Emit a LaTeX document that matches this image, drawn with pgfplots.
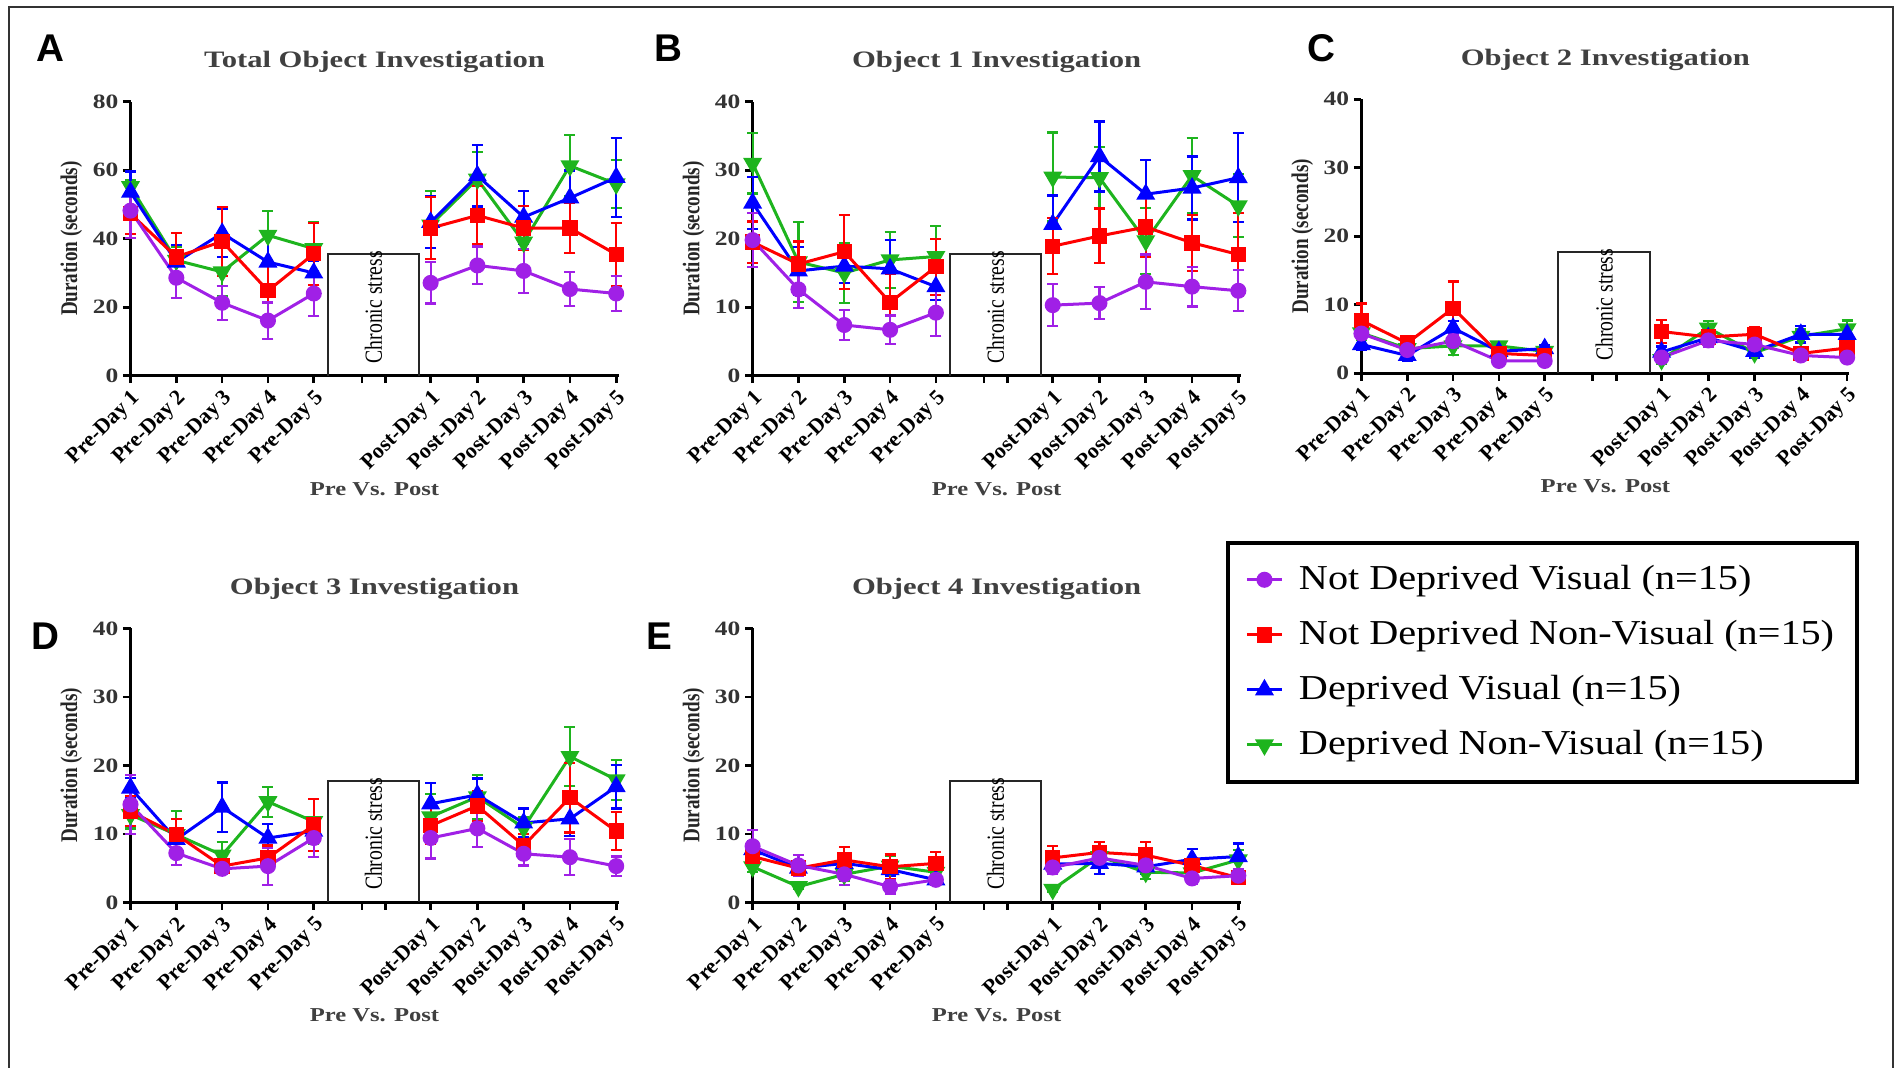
\documentclass[border=0pt]{standalone}
\usepackage{fontspec}
\setmainfont{Liberation Serif}
\newfontfamily\wfont{Liberation Serif}[FakeStretch=1.25]
\newfontfamily\lfont{Liberation Serif}[FakeStretch=1.15]
\newfontfamily\tfont{Liberation Serif}[FakeStretch=1.3]
\newfontfamily\rfont{Liberation Serif}[FakeStretch=0.8]
\newfontfamily\sfont{Liberation Sans}
\usepackage{pgfplots}
\usepackage{pgfplotstable}
\pgfplotsset{compat=1.18}

\definecolor{cpurple}{RGB}{160,32,230}
\definecolor{cred}{RGB}{255,0,0}
\definecolor{cblue}{RGB}{0,0,255}
\definecolor{cgreen}{RGB}{30,180,30}

\pgfplotstableread{
x ndv ndve ndnv ndnve dv dve dnv dnve
0 48.2 8 47.3 6 53.6 6 55.2 2
1 28.6 6 34.7 7 33.2 5 33.7 4
2 21.3 5 39.2 10 41.6 7 30.3 7
3 16.1 5.3 24.8 8 33.2 8 41.0 7.2
4 24.0 6.5 35.6 9 30.0 3.5 37.1 7.7
5.3 nan nan nan nan nan nan nan nan
6.55 27.1 6 43.1 9 44.8 7.5 44 10
7.57 32.2 5.5 46.8 8.5 58.4 9 57.4 8
8.58 30.6 6.5 43.1 6.5 46.3 7.7 39 2
9.59 25.3 5 43.1 7.3 51.9 8 61.3 9
10.6 24.0 5 35.4 9.3 57.9 11.6 56 7
}\tA

\pgfplotstableread{
x ndv ndve ndnv ndnve dv dve dnv dnve
0 19.8 3.9 19.5 3 25.2 3.8 31.0 4.4
1 12.6 2.7 16.3 3.3 15.3 3.5 16.6 5.8
2 7.4 2.2 18.1 5.4 16.0 2.5 15.0 4.4
3 6.7 2.1 10.7 4.1 15.6 4.2 16.9 4.1
4 9.2 3.4 15.9 4.1 13.0 2 17.4 4.4
5.3 nan nan nan nan nan nan nan nan
6.55 10.3 3.1 18.9 4.1 22.1 4.2 29.0 6.5
7.57 10.6 2.3 20.4 4 32.0 5.1 28.9 4.5
8.58 13.7 4 21.7 4.3 26.5 5 19.7 4.8
9.59 13.0 2.9 19.4 4.1 27.4 4.6 29.2 5.5
10.6 12.4 3 17.7 6 28.9 6.5 24.8 4.6
}\tB

\pgfplotstableread{
x ndv ndve ndnv ndnve dv dve dnv dnve
0 5.8 0.8 7.7 2.5 4.2 0.8 5.9 1
1 3.4 0.8 4.4 0.7 2.6 0.8 3.6 0.6
2 4.7 1 9.5 3.9 6.6 1 4.0 1.3
3 1.8 0.5 2.9 0.5 3.2 0.5 4.0 0.6
4 1.8 0.5 2.6 0.5 3.6 0.5 3.2 0.5
5.3 nan nan nan nan nan nan nan nan
6.55 2.3 0.5 6.1 1.7 3.1 0.8 2.0 0.6
7.57 4.8 1 5.3 1 5.2 1 6.6 1
8.58 4.2 1.5 5.7 1.1 3.2 1 3.0 0.8
9.59 2.6 0.5 2.9 0.3 5.7 1.2 5.4 1
10.6 2.3 0.4 3.7 0.8 5.7 1.2 6.5 1.2
}\tC

\pgfplotstableread{
x ndv ndve ndnv ndnve dv dve dnv dnve
0 14.3 4.3 13.3 2.2 16.7 1.5 12.8 2
1 7.2 1.7 9.9 2.3 9.2 1.5 9.9 3.4
2 4.9 0.8 5.3 0.8 13.9 3.6 6.9 1.9
3 5.3 2.7 6.5 1.8 9.4 2 14.7 2.2
4 9.4 2.8 11.3 3.8 10.4 1.5 11.8 3.3
5.3 nan nan nan nan nan nan nan nan
6.55 9.4 3 11.2 2.6 14.4 3 12.5 3.3
7.57 10.8 2.7 14.1 2.2 15.7 2.4 15.4 3.2
8.58 7.1 1.7 8.3 1.7 11.6 2.1 10.9 1.5
9.59 6.6 2.6 15.3 5.1 12.2 2.5 21.3 4.3
10.6 5.3 1.4 10.4 2.8 16.9 3.2 17.9 2.9
}\tD

\pgfplotstableread{
x ndv ndve ndnv ndnve dv dve dnv dnve
0 8.2 2.4 6.7 1.5 7.7 1.2 5.2 0.8
1 5.4 1.5 5.0 1 5.0 1 2.3 0.4
2 4.1 1.5 6.2 1.9 5.7 1 4.1 1
3 2.3 1 5.2 1.8 4.8 1 5.3 1.5
4 3.3 0.8 5.7 1.7 3.3 0.8 4.4 0.8
5.3 nan nan nan nan nan nan nan nan
6.55 5.1 1 6.5 1.7 5.6 1 1.9 0.4
7.57 6.5 1 7.3 1.5 5.7 1.6 6.7 1.5
8.58 5.4 1 6.9 1.9 5.2 1 4.4 1
9.59 3.5 0.8 5.4 1 6.3 1.5 4.3 1
10.6 3.9 1 3.6 0.8 6.7 1.9 6.2 1.5
}\tE

\pgfplotsset{
  panelbase/.style={
    scale only axis, width=48.8mm, height=27.4mm,
    xmin=0, xmax=10.65, ymin=0,
    axis x line=bottom, axis y line=left,
    axis line style={-, line width=0.27mm, black},
    tick style={line width=0.27mm, black},
    tick align=outside, major tick length=0.75mm,
    xtick={0,1,2,3,4,5.05,5.57,6.55,7.57,8.58,9.59,10.6},
    xticklabels={Pre-Day 1,Pre-Day 2,Pre-Day 3,Pre-Day 4,Pre-Day 5,,,Post-Day 1,Post-Day 2,Post-Day 3,Post-Day 4,Post-Day 5},
    xticklabel style={rotate=45, anchor=north east, inner sep=0.3mm, font=\bfseries\fontsize{6.2}{6.5}\selectfont},
    yticklabel style={font=\wfont\bfseries\fontsize{5.8}{6}\selectfont, text=black!80, inner sep=0.4mm},
    /pgf/number format/assume math mode=true,
    xlabel={Pre Vs. Post}, ylabel={Duration (seconds)},
    xlabel style={at={(axis description cs:0.5,0)}, anchor=center, yshift=-11.3mm, font=\wfont\bfseries\fontsize{5.6}{6}\selectfont, text=black!75},
    ylabel style={at={(axis description cs:-0.121,0.5)}, anchor=center, font=\rfont\bfseries\fontsize{6.8}{7}\selectfont, text=black!85},
    every axis title shift=0pt,
    title style={at={(axis description cs:0.5,1)}, anchor=center, yshift=3.95mm, font=\tfont\bfseries\fontsize{6.7}{7}\selectfont, text=black!75},
    clip=false, unbounded coords=jump,
  },
  ebars/.style={error bars/.cd, y dir=both, y explicit, error mark=-, error bar style={line width=0.22mm}, error mark options={rotate=90, mark size=0.55mm, line width=0.22mm}},
  sNDV/.style={color=cpurple, line width=0.3mm, mark=*, mark size=0.65mm, mark options={solid}, ebars},
  sNDNV/.style={color=cred, line width=0.3mm, mark=square*, mark size=0.62mm, mark options={solid}, ebars},
  sDV/.style={color=cblue, line width=0.3mm, mark=triangle*, mark size=0.8mm, mark options={solid}, ebars},
  sDNV/.style={color=cgreen, line width=0.3mm, mark=triangle*, mark size=0.8mm, mark options={solid, rotate=180}, ebars},
}

\newcommand{\cstress}[1]{%
  \addplot[black!85, line width=0.2mm, mark=none, forget plot] coordinates {(4.3,0) (4.3,#1) (6.3,#1) (6.3,0)};
  \node[rotate=90, anchor=west, font=\rfont\fontsize{7}{8}\selectfont] at (axis cs:5.3,0) {Chronic stress};
}

\begin{document}
\begin{tikzpicture}
\useasboundingbox (0,0) rectangle (189.4mm,106.7mm);
\draw[line width=0.2mm, black!80] (0.85mm,-1mm) -- (0.85mm,106.0mm) -- (189.3mm,106.0mm) -- (189.3mm,-1mm);

% Panel A
\begin{axis}[panelbase, at={(13.05mm,69.13mm)}, ymax=80, ytick={0,20,40,60,80}, title={Total Object Investigation}]
\cstress{35.4}
\addplot[sDNV] table[x=x,y=dnv,y error=dnve]{\tA};
\addplot[sDV] table[x=x,y=dv,y error=dve]{\tA};
\addplot[sNDNV] table[x=x,y=ndnv,y error=ndnve]{\tA};
\addplot[sNDV] table[x=x,y=ndv,y error=ndve]{\tA};
\end{axis}

% Panel B
\begin{axis}[panelbase, at={(75.26mm,69.13mm)}, ymax=40, ytick={0,10,20,30,40}, title={Object 1 Investigation}]
\cstress{17.7}
\addplot[sDNV] table[x=x,y=dnv,y error=dnve]{\tB};
\addplot[sDV] table[x=x,y=dv,y error=dve]{\tB};
\addplot[sNDNV] table[x=x,y=ndnv,y error=ndnve]{\tB};
\addplot[sNDV] table[x=x,y=ndv,y error=ndve]{\tB};
\end{axis}

% Panel C
\begin{axis}[panelbase, at={(136.14mm,69.37mm)}, ymax=40, ytick={0,10,20,30,40}, title={Object 2 Investigation}]
\cstress{17.7}
\addplot[sDNV] table[x=x,y=dnv,y error=dnve]{\tC};
\addplot[sDV] table[x=x,y=dv,y error=dve]{\tC};
\addplot[sNDNV] table[x=x,y=ndnv,y error=ndnve]{\tC};
\addplot[sNDV] table[x=x,y=ndv,y error=ndve]{\tC};
\end{axis}

% Panel D
\begin{axis}[panelbase, at={(13.05mm,16.46mm)}, ymax=40, ytick={0,10,20,30,40}, title={Object 3 Investigation}]
\cstress{17.7}
\addplot[sDNV] table[x=x,y=dnv,y error=dnve]{\tD};
\addplot[sDV] table[x=x,y=dv,y error=dve]{\tD};
\addplot[sNDNV] table[x=x,y=ndnv,y error=ndnve]{\tD};
\addplot[sNDV] table[x=x,y=ndv,y error=ndve]{\tD};
\end{axis}

% Panel E with legend
\begin{axis}[panelbase, at={(75.26mm,16.46mm)}, ymax=40, ytick={0,10,20,30,40}, title={Object 4 Investigation},
  reverse legend,
  legend style={at={(axis description cs:0.970,1.319)}, anchor=north west, draw=black, line width=0.4mm,
    font=\lfont\fontsize{9.95}{11}\selectfont, inner xsep=1.75mm, inner ysep=1.7mm, row sep=1.55mm,
    cells={anchor=west}, nodes={inner sep=0.5mm},
    /tikz/every odd column/.append style={column sep=1.05mm}},
  legend image code/.code={\draw[mark repeat=2,mark phase=2] plot coordinates {(0mm,0mm) (1.75mm,0mm) (3.5mm,0mm)};}]
\cstress{17.7}
\addplot[sDNV] table[x=x,y=dnv,y error=dnve]{\tE};
\addlegendentry{Deprived Non-Visual (n=15)}
\addplot[sDV] table[x=x,y=dv,y error=dve]{\tE};
\addlegendentry{Deprived Visual (n=15)}
\addplot[sNDNV] table[x=x,y=ndnv,y error=ndnve]{\tE};
\addlegendentry{Not Deprived Non-Visual (n=15)}
\addplot[sNDV] table[x=x,y=ndv,y error=ndve]{\tE};
\addlegendentry{Not Deprived Visual (n=15)}
\end{axis}

% Panel letters
\node[font=\sfont\bfseries\fontsize{11}{12}\selectfont] at (5.07mm,101.87mm) {A};
\node[font=\sfont\bfseries\fontsize{11}{12}\selectfont] at (66.8mm,101.87mm) {B};
\node[font=\sfont\bfseries\fontsize{11}{12}\selectfont] at (132.15mm,101.87mm) {C};
\node[font=\sfont\bfseries\fontsize{11}{12}\selectfont] at (4.59mm,43.04mm) {D};
\node[font=\sfont\bfseries\fontsize{11}{12}\selectfont] at (65.96mm,43.04mm) {E};
\end{tikzpicture}
\end{document}
